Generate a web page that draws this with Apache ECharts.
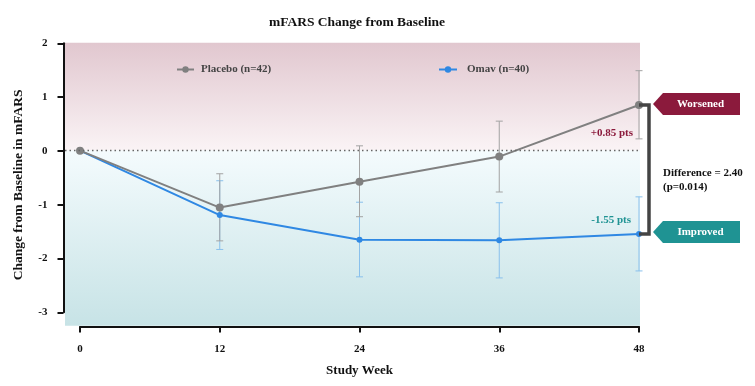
<!DOCTYPE html>
<html>
<head>
<meta charset="utf-8">
<script src="https://cdn.jsdelivr.net/npm/echarts@6/dist/echarts.min.js"></script>
<style>
html,body{margin:0;padding:0;background:#fff;}
#chart{width:755px;height:386px;}
</style>
</head>
<body>
<div id="chart"></div>
<script>
// ---- data ----
var weeks = [0, 12, 24, 36, 48];
var xTicks = [0, 12, 24, 36, 48];
var yTicks = [-3, -2, -1, 0, 1, 2];
var placeboName = 'Placebo (n=42)';
var omavName = 'Omav (n=40)';
var placeboMean = [0, -1.06, -0.58, -0.11, 0.85];
var placeboLow  = [null, -1.68, -1.23, -0.77, 0.22];
var placeboHigh = [null, -0.43, 0.09, 0.55, 1.49];
var omavMean = [0, -1.20, -1.66, -1.67, -1.55];
var omavLow  = [null, -1.84, -2.35, -2.37, -2.24];
var omavHigh = [null, -0.56, -0.96, -0.97, -0.86];
var placeboLabel = '+0.85 pts';
var omavLabel = '-1.55 pts';
var diffLines = ['Difference = 2.40', '(p=0.014)'];
var worseText = 'Worsened';
var betterText = 'Improved';

var FONT = '"Liberation Serif", "Times New Roman", serif';
var RED = '#8b1a3c';
var TEAL = '#1f9393';

function pairs(xs, ys){ return xs.map(function(x,i){ return [x, ys[i]]; }); }
function errData(xs, lo, hi){
  var out = [];
  xs.forEach(function(x,i){ if (lo[i] != null) out.push([x, lo[i], hi[i]]); });
  return out;
}
function errRender(color){
  return function(params, api){
    var x = api.value(0), lo = api.value(1), hi = api.value(2);
    var p1 = api.coord([x, hi]), p2 = api.coord([x, lo]);
    var hw = 3.5;
    var st = {stroke: color, lineWidth: 1};
    return {type: 'group', children: [
      {type: 'line', shape: {x1: p1[0], y1: p1[1], x2: p2[0], y2: p2[1]}, style: st},
      {type: 'line', shape: {x1: p1[0]-hw, y1: p1[1], x2: p1[0]+hw, y2: p1[1]}, style: st},
      {type: 'line', shape: {x1: p2[0]-hw, y1: p2[1], x2: p2[0]+hw, y2: p2[1]}, style: st}
    ]};
  };
}

var chart = echarts.init(document.getElementById('chart'));
var option = {
  backgroundColor: '#ffffff',
  animation: false,
  title: {
    text: 'mFARS Change from Baseline',
    left: 352, top: 11, textAlign: 'center',
    textStyle: {fontFamily: FONT, fontSize: 13.5, fontWeight: 'bold', color: '#111'}
  },
  legend: [
    {data: [placeboName], left: 176, top: 64, padding: 0, itemWidth: 17, itemHeight: 8, itemGap: 0,
     textStyle: {fontFamily: FONT, fontSize: 11, fontWeight: 'bold', color: '#444', padding: [0,0,0,2]}},
    {data: [omavName], left: 438, top: 64, padding: 0, itemWidth: 18, itemHeight: 8, itemGap: 0,
     textStyle: {fontFamily: FONT, fontSize: 11, fontWeight: 'bold', color: '#444', padding: [0,0,0,5]}}
  ],
  grid: [
    // 0: data grid
    {left: 80, right: 116, top: 43.3, bottom: 59.5, containLabel: false},
    // 1: y axis display
    {left: 63.5, right: 116, top: 43.3, bottom: 73.7, containLabel: false},
    // 2: background
    {left: 65, right: 115, top: 42.7, bottom: 60.3, containLabel: false, show: true, borderWidth: 0,
     backgroundColor: new echarts.graphic.LinearGradient(0, 0, 0, 1, [
       {offset: 0, color: '#e1c7cf'},
       {offset: 0.378, color: '#faf3f5'},
       {offset: 0.382, color: '#f4fbfd'},
       {offset: 1, color: '#c7e3e6'}
     ])}
  ],
  xAxis: [
    {gridIndex: 0, type: 'value', min: 0, max: 48, interval: 12,
     name: 'Study Week', nameLocation: 'middle', nameGap: 38,
     nameTextStyle: {fontFamily: FONT, fontSize: 13, fontWeight: 'bold', color: '#111'},
     axisLine: {show: true, onZero: false, lineStyle: {color: '#111', width: 2}},
     axisTick: {show: true, length: 6, lineStyle: {color: '#111', width: 2}, customValues: xTicks},
     axisLabel: {margin: 17, fontFamily: FONT, fontSize: 11, fontWeight: 'bold', color: '#111', customValues: xTicks},
     splitLine: {show: false}},
    {gridIndex: 1, type: 'value', min: 0, max: 1, show: false},
    {gridIndex: 2, type: 'value', min: 0, max: 1, show: false}
  ],
  yAxis: [
    {gridIndex: 0, type: 'value', min: -3.275, max: 2,
     name: 'Change from Baseline in mFARS', nameLocation: 'middle', nameGap: 54,
     nameTextStyle: {fontFamily: FONT, fontSize: 13.5, fontWeight: 'bold', color: '#111'},
     axisLine: {show: false}, axisTick: {show: false}, axisLabel: {show: false}, splitLine: {show: false}},
    {gridIndex: 1, type: 'value', min: -3, max: 2, interval: 1,
     axisLine: {show: true, onZero: false, lineStyle: {color: '#111', width: 2}},
     axisTick: {show: true, length: 6, lineStyle: {color: '#111', width: 2}},
     axisLabel: {margin: 16, fontFamily: FONT, fontSize: 11, fontWeight: 'bold', color: '#111'},
     splitLine: {show: false}},
    {gridIndex: 2, type: 'value', min: -3.26, max: 2, show: false}
  ],
  series: [
    {type: 'line', xAxisIndex: 2, yAxisIndex: 2, data: [], silent: true,
     markLine: {silent: true, symbol: 'none', label: {show: false},
       lineStyle: {color: '#666', type: [1.5, 3], width: 1.3},
       data: [{yAxis: 0}]}},
    {type: 'custom', name: 'omavErr', xAxisIndex: 0, yAxisIndex: 0, z: 2,
     renderItem: errRender('#89c0ec'), data: errData(weeks, omavLow, omavHigh)},
    {type: 'custom', name: 'placeboErr', xAxisIndex: 0, yAxisIndex: 0, z: 2,
     renderItem: errRender('#a3a3a3'), data: errData(weeks, placeboLow, placeboHigh)},
    {type: 'line', name: omavName, xAxisIndex: 0, yAxisIndex: 0, z: 3,
     data: pairs(weeks, omavMean), symbol: 'circle', symbolSize: 6,
     lineStyle: {color: '#2f88e3', width: 2}, itemStyle: {color: '#2f88e3'}},
    {type: 'line', name: placeboName, xAxisIndex: 0, yAxisIndex: 0, z: 4,
     data: pairs(weeks, placeboMean), symbol: 'circle', symbolSize: 8,
     lineStyle: {color: '#808080', width: 2}, itemStyle: {color: '#808080'}}
  ]
};
chart.setOption(option);

// annotations anchored to the data at the last week
var lastI = weeks.length - 1;
var pTop = chart.convertToPixel({gridIndex: 0}, [weeks[lastI], placeboMean[lastI]]);
var pBot = chart.convertToPixel({gridIndex: 0}, [weeks[lastI], omavMean[lastI]]);
var bx = pTop[0] + 10;
function tag(y, color, text){
  var tipX = pTop[0] + 14, bodyX = tipX + 10, right = tipX + 87, h = 11;
  return {type: 'group', children: [
    {type: 'polygon', shape: {points: [[tipX, y], [bodyX, y - h], [right, y - h], [right, y + h], [bodyX, y + h]]},
     style: {fill: color}},
    {type: 'text', x: (bodyX + right) / 2 - 1, y: y, style: {text: text, fill: '#fff', font: 'bold 11px ' + FONT,
      align: 'center', verticalAlign: 'middle'}}
  ]};
}
chart.setOption({
  graphic: [
    {type: 'polyline', shape: {points: [[pTop[0], pTop[1]], [bx, pTop[1]], [bx, pBot[1]], [pBot[0], pBot[1]]]},
     style: {stroke: '#444', lineWidth: 3.5, fill: null}, z: 10},
    tag(pTop[1] - 1, RED, worseText),
    tag(pBot[1] - 2, TEAL, betterText),
    {type: 'text', x: pTop[0] - 6, y: pTop[1] + 28, style: {text: placeboLabel, fill: RED,
      font: 'bold 11px ' + FONT, align: 'right', verticalAlign: 'middle'}},
    {type: 'text', x: pBot[0] - 8, y: pBot[1] - 14, style: {text: omavLabel, fill: TEAL,
      font: 'bold 11px ' + FONT, align: 'right', verticalAlign: 'middle'}},
    {type: 'text', x: pTop[0] + 24, y: (pTop[1] + pBot[1]) / 2 + 4, style: {text: diffLines[0], fill: '#111',
      font: 'bold 11px ' + FONT, align: 'left', verticalAlign: 'middle'}},
    {type: 'text', x: pTop[0] + 24, y: (pTop[1] + pBot[1]) / 2 + 18, style: {text: diffLines[1], fill: '#111',
      font: 'bold 11px ' + FONT, align: 'left', verticalAlign: 'middle'}}
  ]
});
</script>
</body>
</html>
